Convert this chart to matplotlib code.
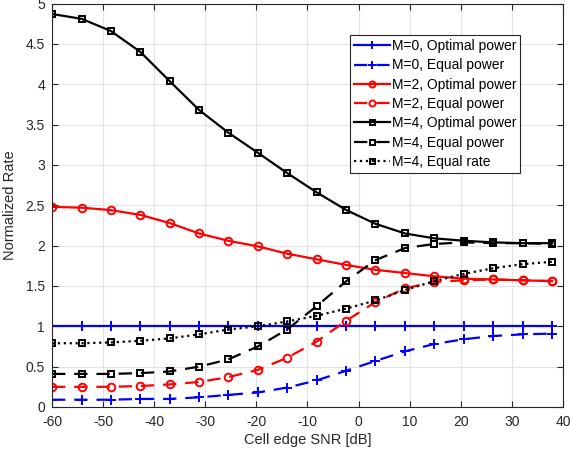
import numpy as np
import matplotlib
matplotlib.use('Agg')
import matplotlib.pyplot as plt

plt.rcParams['font.family'] = ['Liberation Sans', 'DejaVu Sans']
plt.rcParams['axes.unicode_minus'] = False

# cell edge SNR [dB]
snr = [-60, -54.2, -48.5, -42.7, -37.0, -31.2, -25.5, -19.7, -14.0,
       -8.2, -2.4, 3.3, 9.1, 14.8, 20.6, 26.4, 32.1, 37.9]

m0_opt = [1.0] * 18
m0_eq = [0.09, 0.09, 0.09, 0.10, 0.10, 0.12, 0.15, 0.18, 0.24,
         0.33, 0.45, 0.57, 0.69, 0.78, 0.84, 0.88, 0.90, 0.91]
m2_opt = [2.48, 2.47, 2.44, 2.38, 2.28, 2.15, 2.06, 1.99, 1.90,
          1.83, 1.76, 1.70, 1.66, 1.62, 1.59, 1.58, 1.57, 1.56]
m2_eq = [0.25, 0.25, 0.25, 0.26, 0.28, 0.31, 0.37, 0.46, 0.61,
         0.81, 1.07, 1.30, 1.47, 1.55, 1.57, 1.58, 1.57, 1.56]
m4_opt = [4.87, 4.81, 4.66, 4.40, 4.04, 3.68, 3.40, 3.15, 2.90,
          2.66, 2.44, 2.27, 2.15, 2.09, 2.06, 2.04, 2.03, 2.03]
m4_eq = [0.41, 0.41, 0.41, 0.42, 0.44, 0.50, 0.59, 0.75, 0.96,
         1.25, 1.56, 1.82, 1.97, 2.02, 2.04, 2.03, 2.03, 2.02]
m4_rate = [0.79, 0.79, 0.80, 0.82, 0.85, 0.90, 0.96, 1.00, 1.06,
           1.13, 1.22, 1.32, 1.45, 1.56, 1.65, 1.72, 1.77, 1.80]

fig = plt.figure(figsize=(5.7, 4.55), dpi=100)
ax = fig.add_axes([0.0912, 0.1055, 0.8965, 0.8868])

lw = 1.6
dsh = (6, 4)
ax.plot(snr, m0_opt, 'b-+', lw=lw, ms=6.5, mew=1.4, label='M=0, Optimal power')
ax.plot(snr, m0_eq, 'b--+', lw=lw, ms=6.5, mew=1.4, dashes=dsh, label='M=0, Equal power')
ax.plot(snr, m2_opt, 'r-o', lw=lw, ms=5.5, mew=1.4, mfc='none', label='M=2, Optimal power')
ax.plot(snr, m2_eq, 'r--o', lw=lw, ms=5.5, mew=1.4, mfc='none', dashes=dsh, label='M=2, Equal power')
ax.plot(snr, m4_opt, 'k-s', lw=lw, ms=4.5, mew=1.4, mfc='none', label='M=4, Optimal power')
ax.plot(snr, m4_eq, 'k--s', lw=lw, ms=4.5, mew=1.4, mfc='none', dashes=dsh, label='M=4, Equal power')
ax.plot(snr, m4_rate, 'k:s', lw=lw, ms=4.5, mew=1.4, mfc='none', label='M=4, Equal rate')

ax.set_xlim(-60, 40)
ax.set_ylim(0, 5)
ax.set_xticks(np.arange(-60, 41, 10))
ax.set_yticks(np.arange(0, 5.01, 0.5))
ax.set_yticklabels(['0', '0.5', '1', '1.5', '2', '2.5', '3', '3.5', '4', '4.5', '5'])
ax.grid(True, color='#e3e3e3', lw=0.8)
ax.set_axisbelow(True)
ax.tick_params(direction='in', top=True, right=True, labelsize=10,
               colors='#262626', length=4)
ax.tick_params(axis='y', pad=5)
ax.tick_params(axis='x', pad=6)
for s in ax.spines.values():
    s.set_color('#262626')
    s.set_linewidth(0.8)

ax.set_xlabel('Cell edge SNR [dB]', fontsize=10.5, color='#262626', labelpad=3)
ax.set_ylabel('Normalized Rate', fontsize=10.5, color='#262626', labelpad=6)

leg = ax.legend(loc='upper left', bbox_to_anchor=(0.583, 0.922), fontsize=10,
                fancybox=False, framealpha=1, edgecolor='#262626',
                handlelength=2.6, labelspacing=0.38, borderpad=0.3,
                handletextpad=0.1, borderaxespad=0, markerscale=0.8)
leg.get_frame().set_linewidth(0.8)

fig.savefig('out.png', dpi=100)
